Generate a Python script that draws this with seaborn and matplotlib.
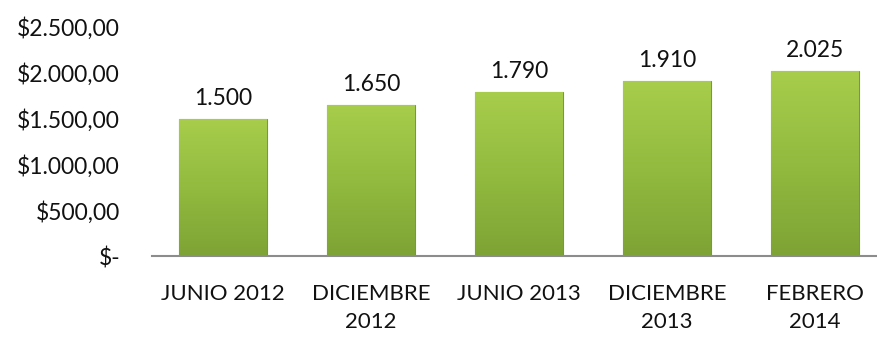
import numpy as np
import pandas as pd
import matplotlib
matplotlib.use("Agg")
import matplotlib.pyplot as plt
import seaborn as sns
from matplotlib.colors import LinearSegmentedColormap

categories = ["JUNIO 2012", "DICIEMBRE\n2012", "JUNIO 2013", "DICIEMBRE\n2013", "FEBRERO\n2014"]
values = [1500, 1650, 1790, 1910, 2025]
value_labels = ["1.500", "1.650", "1.790", "1.910", "2.025"]
ytick_values = [0, 500, 1000, 1500, 2000, 2500]
ytick_labels = ["$-", "$500,00", "$1.000,00", "$1.500,00", "$2.000,00", "$2.500,00"]

sns.set_style("white")
plt.rcParams["font.family"] = ["Lato", "DejaVu Sans"]

df = pd.DataFrame({"cat": categories, "val": values})

fig = plt.figure(figsize=(8.77, 3.43), dpi=100)
ax = fig.add_axes([152/877, 1-256/343, 1-152/877, (256-27)/343])

sns.barplot(data=df, x="cat", y="val", ax=ax, color="#98c03e", width=0.59,
            edgecolor="#7a9a30", linewidth=0.8, saturation=1)

cmap = LinearSegmentedColormap.from_list("g", ["#7ea335", "#92bb3f", "#a8cd4c"])
grad = np.linspace(0, 1, 256).reshape(-1, 1)
for p in ax.patches:
    x0, y0 = p.get_x(), p.get_y()
    w, h = p.get_width(), p.get_height()
    im = ax.imshow(grad, cmap=cmap, aspect="auto", extent=[x0, x0 + w, y0, y0 + h],
                   origin="lower", zorder=p.get_zorder() + 0.1)
    im.set_clip_path(p)

ax.bar_label(ax.containers[0], labels=value_labels, padding=7, fontsize=16.5, color="#111111")

ax.set_xlim(-0.48, 4.42)
ax.set_ylim(0, 2500)
ax.set_yticks(ytick_values)
ax.set_yticklabels(ytick_labels)
ax.set_xlabel("")
ax.set_ylabel("")
ax.tick_params(axis="y", length=0, pad=23, labelsize=16.5, colors="#111111")
ax.tick_params(axis="x", length=0, pad=20, labelsize=16, colors="#111111")
for lbl in ax.get_xticklabels():
    lbl.set_linespacing(1.5)
for s in ["top", "right", "left"]:
    ax.spines[s].set_visible(False)
ax.spines["bottom"].set_color("#8c8c8c")
ax.spines["bottom"].set_linewidth(1.5)
ax.spines["bottom"].set_zorder(5)

fig.savefig("out.png", dpi=100)
